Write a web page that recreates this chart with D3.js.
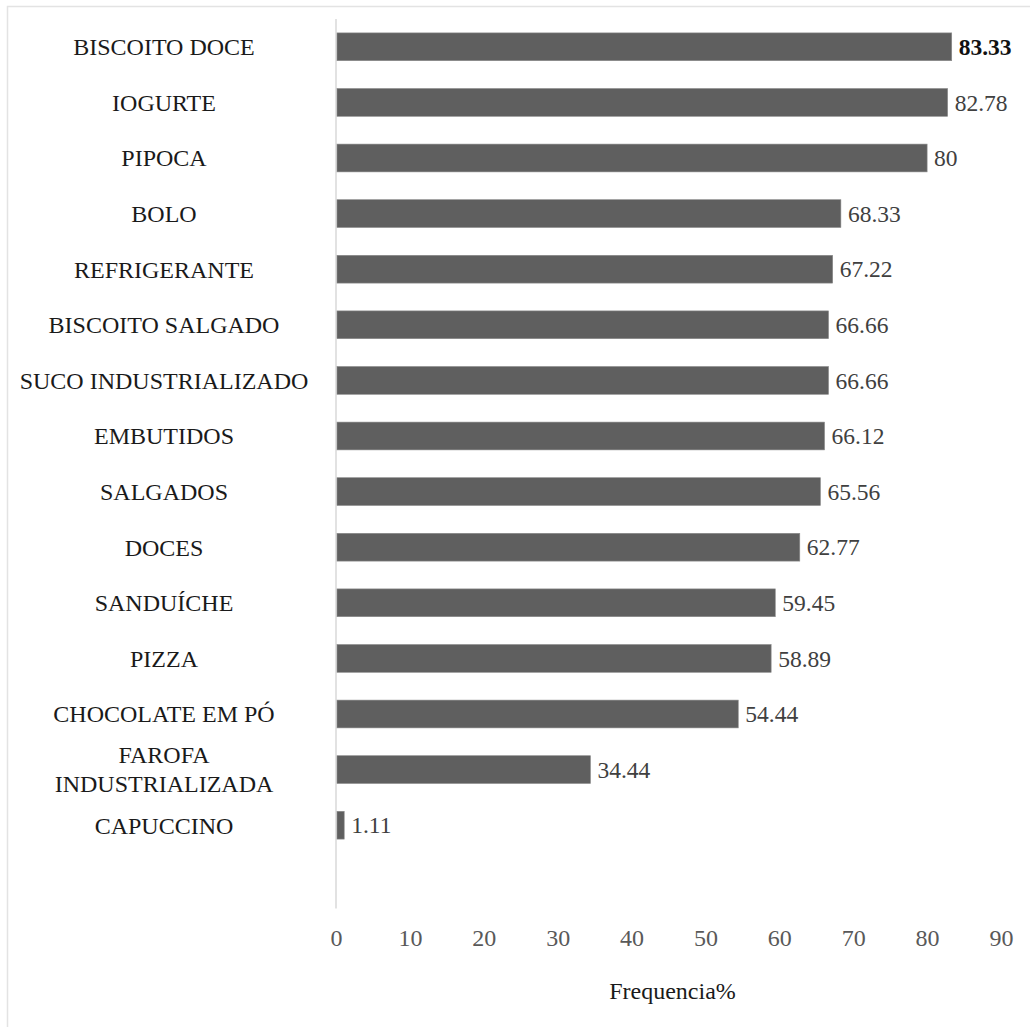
<!DOCTYPE html>
<html>
<head>
<meta charset="utf-8">
<script src="https://cdn.jsdelivr.net/npm/d3@7"></script>
<style>
  body { margin: 0; background: #fff; }
</style>
</head>
<body>
<div id="chart"></div>
<script>
// data
const categories = ['BISCOITO DOCE', 'IOGURTE', 'PIPOCA', 'BOLO', 'REFRIGERANTE',
    'BISCOITO SALGADO', 'SUCO INDUSTRIALIZADO', 'EMBUTIDOS', 'SALGADOS', 'DOCES',
    'SANDUÍCHE', 'PIZZA', 'CHOCOLATE EM PÓ', 'FAROFA INDUSTRIALIZADA', 'CAPUCCINO'];
const values = [83.33, 82.78, 80, 68.33, 67.22, 66.66, 66.66, 66.12, 65.56, 62.77,
    59.45, 58.89, 54.44, 34.44, 1.11];
const valueLabels = ['83.33', '82.78', '80', '68.33', '67.22', '66.66', '66.66', '66.12',
    '65.56', '62.77', '59.45', '58.89', '54.44', '34.44', '1.11'];
const xTicks = [0, 10, 20, 30, 40, 50, 60, 70, 80, 90];

const width = 1030, height = 1027;
const margin = {top: 19, left: 336, right: 29};
const serif = 'Liberation Serif';

const data = categories.map((c, i) => ({cat: c, val: values[i], label: valueLabels[i]}));

const svg = d3.select('#chart').append('svg')
    .attr('width', width)
    .attr('height', height);

// outer frame (only top/left visible in the picture)
svg.append('rect')
    .attr('x', 7.5).attr('y', 6.5)
    .attr('width', width + 20).attr('height', height + 20)
    .attr('fill', 'none')
    .attr('stroke', '#e3e3e3')
    .attr('stroke-width', 1.5);

//scales
const xScale = d3.scaleLinear([0, 90], [margin.left, width - margin.right]);
const step = 55.6;
const yScale = d3.scaleBand()
    .domain(categories)
    .range([margin.top, margin.top + step * categories.length])
    .paddingInner(0.5)
    .paddingOuter(0.25);

// vertical axis line, runs one empty band past the last bar
svg.append('line')
    .attr('x1', xScale(0)).attr('x2', xScale(0))
    .attr('y1', yScale.range()[0])
    .attr('y2', yScale.range()[1] + yScale.step())
    .attr('stroke', '#d9d9d9')
    .attr('stroke-width', 1.5);

//bars
svg.selectAll('.bar')
    .data(data)
    .enter()
    .append('rect')
    .attr('class', 'bar')
    .attr('x', xScale(0) + 1)
    .attr('y', d => yScale(d.cat))
    .attr('width', d => xScale(d.val) - xScale(0) - 1)
    .attr('height', yScale.bandwidth())
    .attr('fill', '#5f5f5f')
    .attr('stroke', '#8a8a8a')
    .attr('stroke-width', 0.6);

//value labels
svg.selectAll('.val')
    .data(data)
    .enter()
    .append('text')
    .attr('class', 'val')
    .attr('x', d => xScale(d.val) + 7)
    .attr('y', d => yScale(d.cat) + yScale.bandwidth() / 2)
    .attr('dy', '0.35em')
    .style('font-family', serif)
    .style('font-size', '23.5px')
    .style('font-weight', (d, i) => i === 0 ? 'bold' : 'normal')
    .attr('fill', (d, i) => i === 0 ? '#111' : '#404040')
    .text(d => d.label);

//category labels, long one wrapped on two lines
const catLabels = svg.selectAll('.cat')
    .data(data)
    .enter()
    .append('text')
    .attr('class', 'cat')
    .attr('x', 164)
    .attr('y', d => yScale(d.cat) + yScale.bandwidth() / 2)
    .attr('text-anchor', 'middle')
    .style('font-family', serif)
    .style('font-size', '24px')
    .attr('fill', '#1a1a1a');

catLabels.each(function(d) {
    const t = d3.select(this);
    if (d.cat === 'FAROFA INDUSTRIALIZADA') {
        t.append('tspan').attr('x', 164).attr('dy', '-0.27em').text('FAROFA');
        t.append('tspan').attr('x', 164).attr('dy', '1.2em').text('INDUSTRIALIZADA');
    } else {
        t.attr('dy', '0.35em').text(d.cat);
    }
});

//x axis, no line, no ticks
const xAxis = d3.axisBottom(xScale)
    .tickValues(xTicks)
    .tickSize(0)
    .tickPadding(0);
const xAxisDraw = svg.append('g')
    .attr('class', 'x axis')
    .attr('transform', `translate(0,${yScale.range()[1] + yScale.step() + 20})`)
    .call(xAxis);
xAxisDraw.select('.domain').remove();
xAxisDraw.selectAll('text')
    .style('font-family', serif)
    .style('font-size', '24px')
    .attr('fill', '#595959');

//axis title
svg.append('text')
    .attr('x', (xScale(0) + xScale(90)) / 2 + 4)
    .attr('y', 999)
    .attr('text-anchor', 'middle')
    .style('font-family', serif)
    .style('font-size', '24px')
    .attr('fill', '#1a1a1a')
    .text('Frequencia%');
</script>
</body>
</html>
